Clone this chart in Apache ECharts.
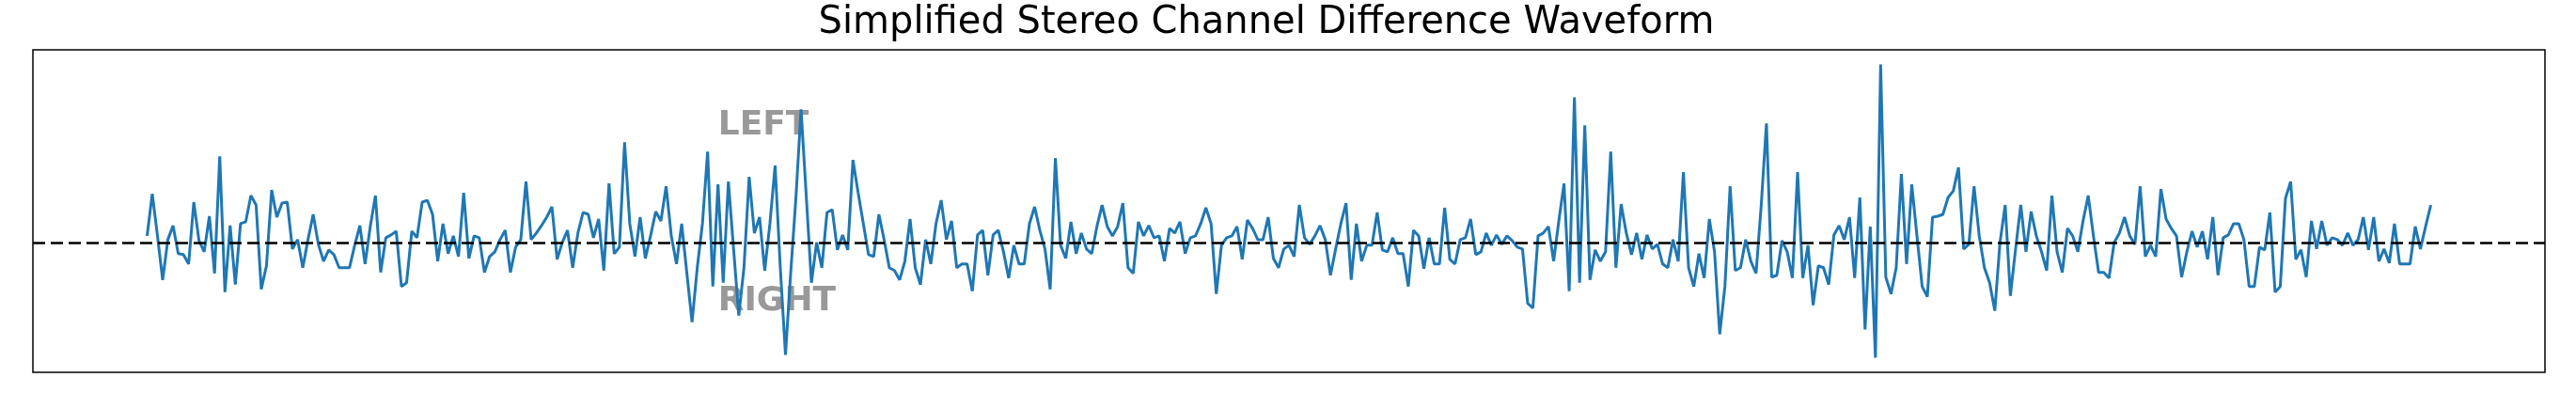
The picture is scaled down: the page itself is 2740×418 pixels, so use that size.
<!DOCTYPE html>
<html>
<head>
<meta charset="utf-8">
<script src="https://cdn.jsdelivr.net/npm/echarts@6/dist/echarts.min.js"></script>
<style>
html,body{margin:0;padding:0;background:#fff;}
#chart{width:2740px;height:418px;}
</style>
</head>
<body>
<div id="chart"></div>
<script>
// Channel difference (L - R) per sample, arbitrary amplitude units
const diff = [
  7, 52, 7, -40, 3, 18, -12, -13, -23, 43,
  2, -10, 28, -33, 92, -53, 18, -45, 20, 22,
  50, 40, -50, -25, 56, 27, 42, 43, -7, 3,
  -27, 3, 30, -2, -20, -8, -13, -27, -27, -27,
  -3, 18, -23, 17, 50, -32, 5, 8, 12, -47,
  -43, 12, 5, 43, 45, 30, -20, 20, -12, 7,
  -15, 53, -17, 7, 5, -32, -15, -10, 3, 13,
  -32, -5, 3, 65, 3, 10, 18, 27, 38, -18,
  0, 13, -27, 10, 32, 30, 5, 25, -30, 63,
  -12, -5, 107, 20, -15, 27, -17, 7, 33, 23,
  60, 7, -23, 20, -33, -85, -27, 20, 97, -47,
  62, -43, 65, -7, -78, -27, 70, 10, 27, -30,
  20, 82, -27, -120, -33, 47, 142, 50, -43, 0,
  -27, 32, 35, -8, 8, -8, 88, 53, 20, -13,
  -15, 30, 3, -27, -30, -40, -20, 25, -27, -45,
  3, -23, 20, 45, 3, 23, -27, -23, -23, -52,
  8, 13, -35, 8, 13, -10, -38, -3, -23, -23,
  20, 38, 13, -7, -50, 90, -3, -17, 22, -12,
  10, -7, -12, 17, 40, 17, 7, 17, 42, -27,
  -33, 22, 7, 18, 5, 7, -20, 15, 10, 22,
  -12, 5, 7, 20, 37, 20, -55, -3, 5, 7,
  17, -18, 24, 15, 3, 3, 27, -17, -27, -7,
  -3, -15, 40, 5, -2, 7, 18, 3, -35, -7,
  20, 42, -40, 20, -20, -3, -3, 32, -8, -10,
  5, -12, -12, -47, 13, 7, -28, 5, -23, -23,
  37, -18, -23, 3, 5, 25, -13, -10, 10, -3,
  8, -2, 7, 2, -5, -7, -65, -70, 7, 10,
  17, -20, 23, 63, -52, 155, -43, 125, -40, -8,
  -20, -10, 97, -27, 41, 10, -13, 10, -18, 8,
  -7, -2, -23, -27, 3, -20, 75, -27, -47, -12,
  -38, 25, -10, -98, -47, 60, -30, -27, 3, -20,
  -33, 40, 127, -37, -35, 2, -10, -38, 75, -38,
  -3, -67, -25, -27, -45, 8, 18, 3, 27, -38,
  48, -93, 17, -123, 190, -37, -55, -27, 73, -23,
  62, 7, -47, -58, 27, 28, 30, 48, 55, 80,
  -7, -2, 60, 7, -27, -43, -73, 0, 40, -57,
  -7, 40, -10, 33, 7, -10, -30, 50, -10, -32,
  15, 7, -10, 23, 50, 7, -32, -32, -38, 0,
  10, 27, 7, -2, 60, -15, -3, -15, 57, 25,
  15, 7, -37, -10, 12, -5, 12, -18, 27, -35,
  5, 8, 20, 20, 3, -47, -47, -5, -8, 32,
  -53, -47, 47, 65, -18, -8, -37, 23, -7, 23,
  -3, 5, 3, -3, 10, -3, 3, 27, -8, 27,
  -20, -7, -22, 20, -23, -23, -23, 17, -7, 17, 40
];

// Annotation texts and their data positions
const labelTexts = ['LEFT', 'RIGHT'];
const labelX = [110, 110];
const labelY = [125, -63];

const titleText = 'Simplified Stereo Channel Difference Waveform';

const N = diff.length;
const dMin = Math.min(...diff), dMax = Math.max(...diff);
const yPad = 0.05 * (dMax - dMin);
const xPad = 0.05 * (N - 1);

const chart = echarts.init(document.getElementById('chart'), null, {renderer: 'canvas'});
chart.setOption({
  animation: false,
  backgroundColor: '#ffffff',
  title: {
    text: titleText,
    left: 1342,
    textAlign: 'center',
    top: 0,
    textStyle: {fontFamily: 'DejaVu Sans', fontSize: 40, fontWeight: 'normal', color: '#000'}
  },
  grid: {
    left: 35, top: 53, width: 2672, height: 343,
    show: true, borderColor: '#000', borderWidth: 1.5, backgroundColor: 'rgba(0,0,0,0)',
    containLabel: false
  },
  xAxis: {type: 'value', min: -xPad, max: (N - 1) + xPad, show: false},
  yAxis: {type: 'value', min: dMin - yPad, max: dMax + yPad, show: false},
  series: [
    {
      type: 'line',
      data: diff.map((v, i) => [i, v]),
      showSymbol: false,
      symbol: 'none',
      lineStyle: {color: '#1f77b4', width: 3},
      itemStyle: {color: '#1f77b4'},
      z: 2,
      markLine: {
        silent: true,
        symbol: ['none', 'none'],
        label: {show: false},
        lineStyle: {color: '#000', type: [13, 6], width: 2.5},
        data: [{yAxis: 0}],
        z: 5
      }
    },
    {
      type: 'scatter',
      symbolSize: 0,
      data: labelX.map((x, i) => ({value: [x, labelY[i]], name: labelTexts[i]})),
      label: {
        show: true,
        position: 'right',
        distance: 0,
        formatter: p => p.name,
        fontFamily: 'DejaVu Sans',
        fontSize: 36,
        fontWeight: 'bold',
        color: '#808080',
        align: 'left',
        verticalAlign: 'middle'
      },
      z: 1
    }
  ]
});
</script>
</body>
</html>
